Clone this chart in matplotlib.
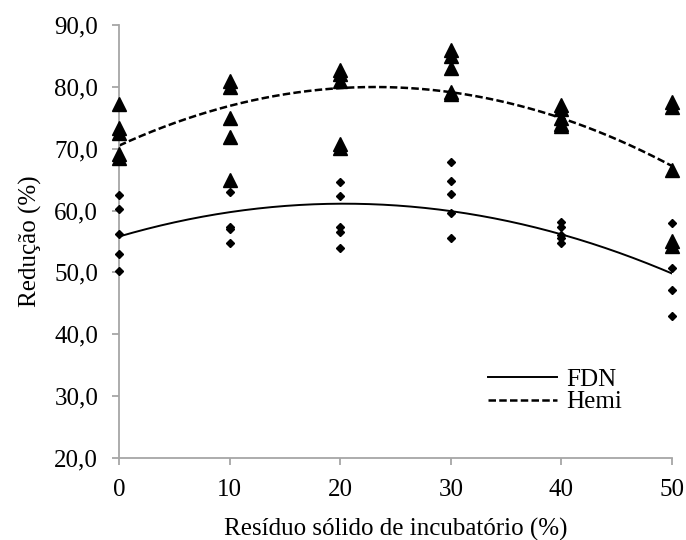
import matplotlib
matplotlib.use("Agg")
import matplotlib.pyplot as plt
import numpy as np

plt.rcParams['font.family'] = ['Liberation Serif', 'DejaVu Serif']

x_levels = [0, 10, 20, 30, 40, 50]
fdn = {
    0: [62.5, 60.3, 56.2, 53.0, 50.3],
    10: [63.0, 57.3, 57.0, 54.8],
    20: [64.6, 62.3, 57.4, 56.5, 54.0],
    30: [67.8, 64.8, 62.6, 59.6, 55.6],
    40: [58.1, 57.4, 56.0, 55.5, 54.8],
    50: [58.0, 50.7, 47.1, 43.0],
}
hemi = {
    0: [77.2, 73.3, 72.6, 69.2, 68.5],
    10: [80.9, 80.0, 74.9, 71.9, 64.9],
    20: [82.8, 82.0, 81.0, 70.7, 70.1],
    30: [86.0, 85.0, 83.0, 79.2, 78.8],
    40: [77.0, 76.4, 75.0, 74.0, 73.6],
    50: [77.5, 76.8, 66.5, 55.0, 54.2],
}
fdn_coef = [55.8, 0.522, -0.01283]
hemi_coef = [70.5, 0.819, -0.0177]
y_ticks = [20, 30, 40, 50, 60, 70, 80, 90]

fig = plt.figure(figsize=(6.86, 5.4), dpi=100)
ax = fig.add_axes([0.1735, 0.1519, 0.8061, 0.8018])

for xv in x_levels:
    ax.plot([xv]*len(hemi[xv]), hemi[xv], linestyle='none', marker='^', ms=9.5,
            color='black', clip_on=False, zorder=3)
    ax.plot([xv]*len(fdn[xv]), fdn[xv], linestyle='none', marker='D', ms=4.5,
            color='black', clip_on=False, zorder=3)

xs = np.linspace(0, 50, 200)
yf = fdn_coef[0] + fdn_coef[1]*xs + fdn_coef[2]*xs**2
yh = hemi_coef[0] + hemi_coef[1]*xs + hemi_coef[2]*xs**2
ax.plot(xs, yf, color='black', lw=1.4, label='FDN')
ax.plot(xs, yh, color='black', lw=1.8, ls=(0, (3.0, 1.3)), label='Hemi')

ax.set_xlim(0, 50)
ax.set_ylim(20, 90)
ax.set_xticks(x_levels)
ax.set_yticks(y_ticks)
ax.set_yticklabels([f"{v:.1f}".replace('.', ',') for v in y_ticks])
for s in ['top', 'right']:
    ax.spines[s].set_visible(False)
for s in ['left', 'bottom']:
    ax.spines[s].set_color('#a6a6a6')
    ax.spines[s].set_linewidth(1.3)
ax.tick_params(axis='both', colors='#a6a6a6', labelcolor='black', labelsize=18,
               direction='out', length=5, width=1.3)
ax.tick_params(axis='y', pad=10)
ax.tick_params(axis='x', pad=10)
ax.set_xlabel('Resíduo sólido de incubatório (%)', fontsize=18, labelpad=12)
ax.set_ylabel('Redução (%)', fontsize=18, labelpad=9)

leg = ax.legend(loc='center left', bbox_to_anchor=(0.668, 0.155), frameon=False,
                fontsize=18, handlelength=2.75, handletextpad=0.35, labelspacing=0.0,
                borderpad=0, borderaxespad=0)

fig.savefig('out.png', dpi=100)
